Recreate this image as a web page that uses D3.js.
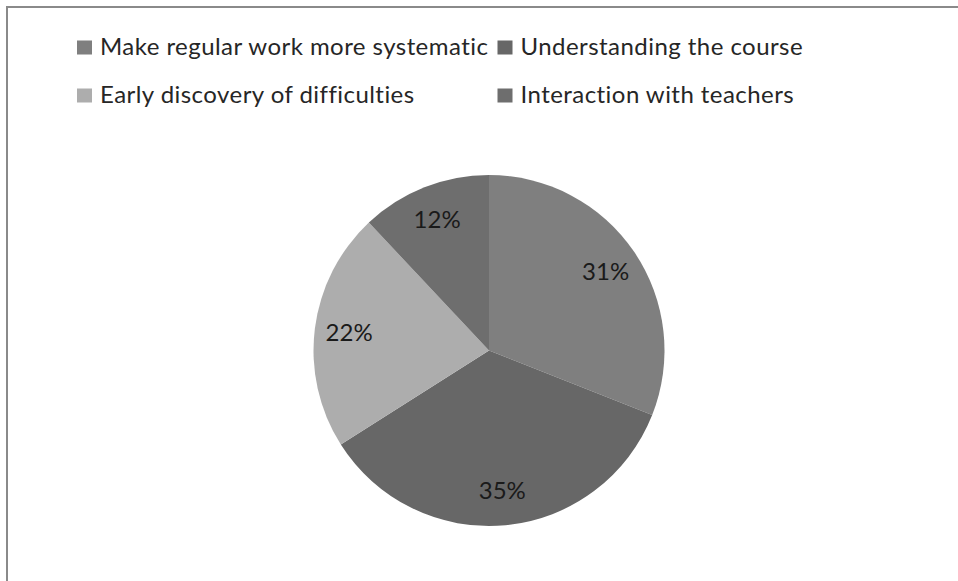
<!DOCTYPE html>
<html>
<head>
<meta charset="utf-8">
<script src="https://cdn.jsdelivr.net/npm/d3@7"></script>
<style>
  html, body { margin: 0; padding: 0; background: #fff; }
  svg { display: block; }
</style>
</head>
<body>
<svg id="chart" width="958" height="581"></svg>
<script>
const categories = [
  "Make regular work more systematic",
  "Understanding the course",
  "Early discovery of difficulties",
  "Interaction with teachers"
];
const values = [31, 35, 22, 12];
const labels = ["31%", "35%", "22%", "12%"];
const colors = ["#7f7f7f", "#676767", "#adadad", "#6e6e6e"];

const svg = d3.select("#chart");
const font = "Lato, 'Open Sans', 'DejaVu Sans', sans-serif";

// chart border (extends beyond the visible area on right/bottom)
svg.append("rect")
  .attr("x", 7).attr("y", 7)
  .attr("width", 1000).attr("height", 1000)
  .attr("fill", "none")
  .attr("stroke", "#8a8a8a")
  .attr("stroke-width", 2);

// legend
const legendPos = [[77, 47.5], [497.5, 47.5], [77, 95.5], [497.5, 95.5]];
const leg = svg.append("g").selectAll("g")
  .data(categories)
  .join("g")
  .attr("transform", (d, i) => `translate(${legendPos[i][0]},${legendPos[i][1]})`);
leg.append("rect")
  .attr("x", 0).attr("y", -7)
  .attr("width", 15).attr("height", 14)
  .attr("fill", (d, i) => colors[i]);
leg.append("text")
  .attr("x", 23).attr("y", 7.5)
  .attr("font-family", font)
  .attr("font-size", 24)
  .attr("letter-spacing", 0.45)
  .attr("fill", "#262626")
  .text(d => d);

// pie
const cx = 489, cy = 350.5, R = 175.5;
const pie = d3.pie().sort(null).value(d => d)
  .startAngle(0).endAngle(2 * Math.PI);
const arcs = pie(values);
const arc = d3.arc().innerRadius(0).outerRadius(R);
const labelArc = d3.arc().innerRadius(141).outerRadius(141);

const g = svg.append("g").attr("transform", `translate(${cx},${cy})`);
g.selectAll("path")
  .data(arcs)
  .join("path")
  .attr("d", arc)
  .attr("fill", (d, i) => colors[i]);

g.selectAll("text")
  .data(arcs)
  .join("text")
  .attr("transform", d => `translate(${labelArc.centroid(d)})`)
  .attr("text-anchor", "middle")
  .attr("dy", "0.35em")
  .attr("font-family", font)
  .attr("font-size", 24)
  .attr("fill", "#1a1a1a")
  .text((d, i) => labels[i]);
</script>
</body>
</html>
